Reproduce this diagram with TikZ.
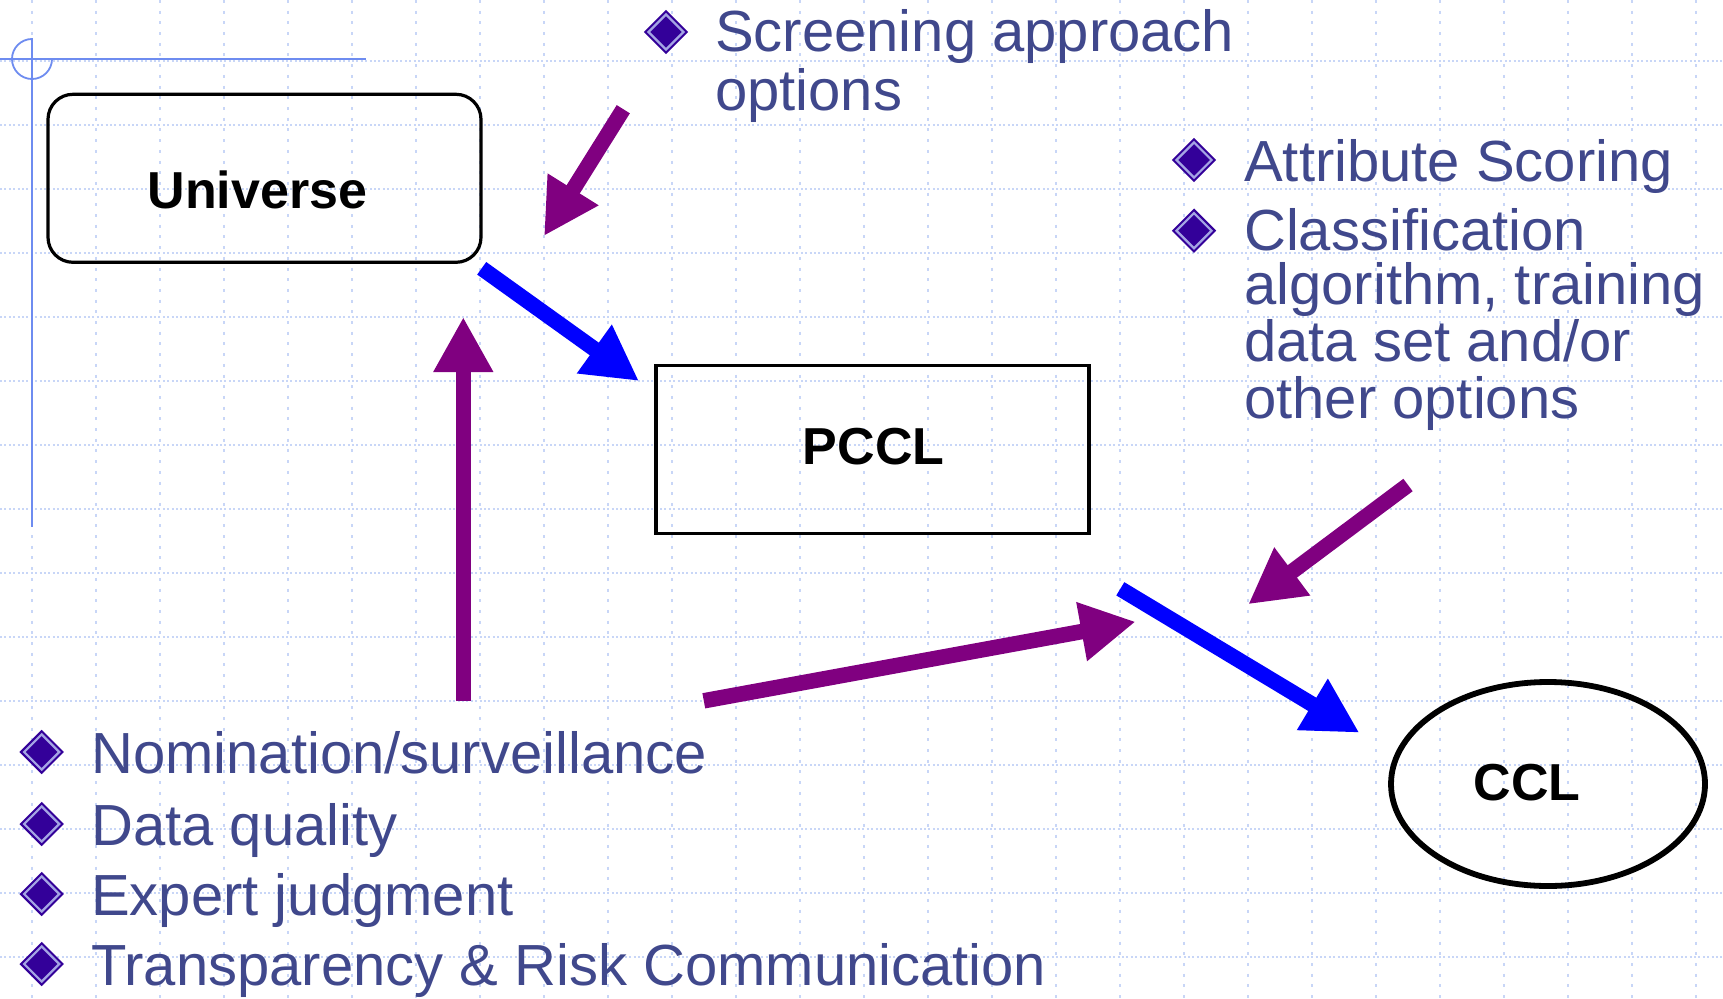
\documentclass[tikz,border=0pt]{standalone}
\usepackage{fontspec}
\setmainfont{Liberation Sans}
\usetikzlibrary{arrows.meta,shapes.geometric}
\definecolor{gridc}{RGB}{200,214,247}
\definecolor{crossc}{RGB}{110,140,240}
\definecolor{textc}{RGB}{64,72,140}
\definecolor{buldark}{RGB}{51,0,153}
\definecolor{bullight}{RGB}{165,165,228}
\definecolor{arrpurple}{RGB}{128,0,128}
\definecolor{arrblue}{RGB}{0,0,255}
\begin{document}
\begin{tikzpicture}[x=1pt,y=-1pt,
  gridh/.style={gridc, line width=1.4pt, dash pattern=on 2pt off 2.4pt},
  gridv/.style={gridc, line width=1.4pt, dash pattern=on 3pt off 7.7pt},
  cross/.style={crossc, line width=1.8pt},
  bul/.style={diamond, aspect=1, minimum size=36pt, inner sep=0pt,
    fill=buldark, draw=buldark, double=bullight, double distance=2.2pt, line width=2.2pt},
  itemtext/.style={anchor=base west, inner sep=0pt, text=textc,
    font=\fontsize{58pt}{58pt}\selectfont},
  boxlabel/.style={anchor=base, inner sep=0pt, text=black,
    font=\bfseries\fontsize{52pt}{52pt}\selectfont},
  rbox/.style={draw=black, line width=3.2pt, minimum width=433pt, minimum height=168pt, inner sep=0pt},
  bigarrow/.style={line width=15.5pt, -{Triangle[length=55pt,width=56pt]}},
]
\useasboundingbox (0,0) rectangle (1723,998);
% grid
\foreach \i in {0,...,14} \draw[gridh] (0,{61+64*\i}) -- (1723,{61+64*\i});
\foreach \i in {0,...,26} \draw[gridv] ({32+64*\i},0) -- ({32+64*\i},998);
% crosshair
\draw[cross] (0,59) -- (366,59);
\draw[cross] (32,38) -- (32,527);
\draw[cross] (52,59) arc[start angle=0, end angle=270, radius=20];

% boxes
\node[rbox, rounded corners=25pt] (universe) at (264.5,178.3) {};
\node[boxlabel] (universelabel) at (257.5,208) {Universe};
\node[rbox] (pccl) at (872.5,449.7) {};
\node[boxlabel] (pccllabel) at (873.7,464.3) {PCCL};
\node[draw=black, line width=5.8pt, ellipse, minimum width=314pt, minimum height=204pt, inner sep=0pt] (ccl) at (1548,784) {};
\node[boxlabel] (ccllabel) at (1527,800) {CCL};

% arrow end points
\coordinate (a1s) at (481.7,268.3);  \coordinate (a1e) at (639,381);
\coordinate (a2s) at (463.3,701);    \coordinate (a2e) at (463.3,317);
\coordinate (a3s) at (623.3,109.2);  \coordinate (a3e) at (544,236);
\coordinate (a4s) at (703.8,700.8);  \coordinate (a4e) at (1135.7,621.7);
\coordinate (a5s) at (1120.3,588.8); \coordinate (a5e) at (1359.4,732.7);
\coordinate (a6s) at (1408,485);     \coordinate (a6e) at (1248.2,604.3);

\draw[bigarrow, arrblue] (a1s) -- (a1e);
\draw[bigarrow, arrpurple] (a2s) -- (a2e);
\draw[bigarrow, arrpurple] (a3s) -- (a3e);
\draw[bigarrow, arrpurple] (a4s) -- (a4e);
\draw[bigarrow, arrblue] (a5s) -- (a5e);
\draw[bigarrow, arrpurple] (a6s) -- (a6e);

% bullets and text
\node[bul] (d1) at (666,32) {};
\node[itemtext] (t1a) at (715,51.7) {Screening approach};
\node[itemtext] (t1b) at (715,110) {options};

\node[bul] (d2) at (1194,160) {};
\node[itemtext] (t2) at (1244,181) {Attribute Scoring};
\node[bul] (d3) at (1194,230.7) {};
\node[itemtext] (t3a) at (1244,250) {Classification};
\node[itemtext] (t3b) at (1244,304) {algorithm, training};
\node[itemtext] (t3c) at (1244,361.7) {data set and/or};
\node[itemtext] (t3d) at (1244,418.3) {other options};

\node[bul] (d4) at (41.7,752) {};
\node[itemtext] (t4) at (91,773.3) {Nomination/surveillance};
\node[bul] (d5) at (41.7,824) {};
\node[itemtext] (t5) at (91,845) {Data quality};
\node[bul] (d6) at (41.7,894) {};
\node[itemtext] (t6) at (91,915) {Expert judgment};
\node[bul] (d7) at (41.7,964) {};
\node[itemtext] (t7) at (91,985.7) {Transparency \& Risk Communication};
\end{tikzpicture}
\end{document}
